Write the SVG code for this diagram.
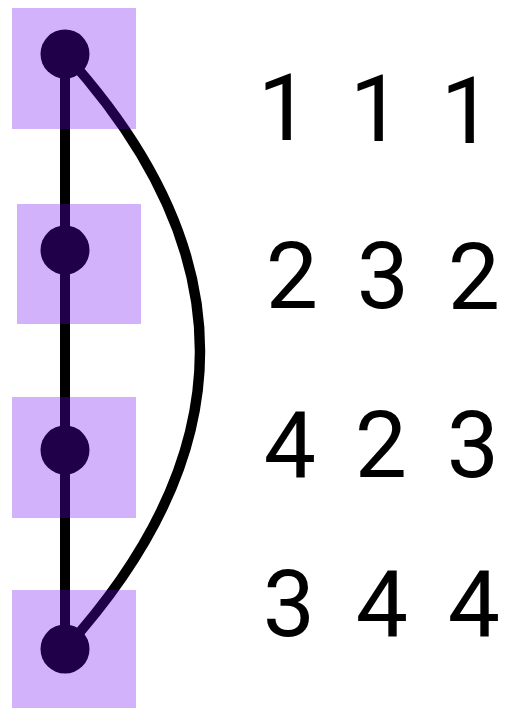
<svg xmlns="http://www.w3.org/2000/svg" width="505" height="708" viewBox="0 0 505 708">
<style>
.edge{fill:none;stroke:#000;stroke-width:10}
.dot{fill:#000}
.box{fill:#6a00f0;fill-opacity:0.3}
.num{font-family:Roboto,"Liberation Sans",sans-serif;font-size:93px;fill:#000;text-anchor:middle}
</style>
<rect width="505" height="708" fill="#fff"/>
<g id="connectors">
<line class="edge" x1="65" y1="54" x2="65" y2="649"/>
<path class="edge" d="M65,54 Q335,351 65,649"/>
</g>
<g id="node1"><circle class="dot" cx="65" cy="54" r="24.5"/><rect class="box" x="12" y="8" width="124" height="121"/></g>
<g id="node2"><circle class="dot" cx="65" cy="250" r="24.5"/><rect class="box" x="17" y="204" width="124" height="120"/></g>
<g id="node3"><circle class="dot" cx="65" cy="450" r="24.5"/><rect class="box" x="12" y="397" width="124" height="121"/></g>
<g id="node4"><circle class="dot" cx="65" cy="649" r="24.5"/><rect class="box" x="12" y="590" width="124" height="118"/></g>
<g id="table">
<text class="num" x="284" y="140">1</text><text class="num" x="376" y="141">1</text><text class="num" x="467" y="143">1</text>
<text class="num" x="292" y="308">2</text><text class="num" x="383" y="308">3</text><text class="num" x="474" y="309">2</text>
<text class="num" x="290" y="477">4</text><text class="num" x="381" y="477">2</text><text class="num" x="473" y="477">3</text>
<text class="num" x="289" y="636">3</text><text class="num" x="382" y="636">4</text><text class="num" x="474" y="636">4</text>
</g>
</svg>
